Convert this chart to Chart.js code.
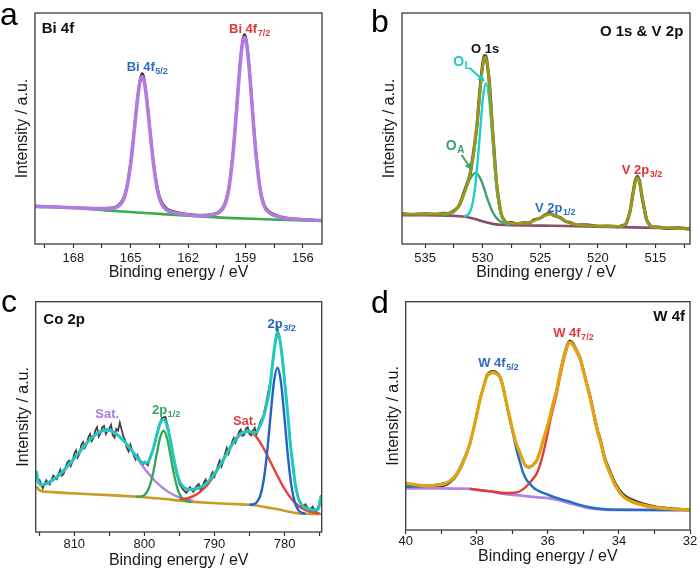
<!DOCTYPE html>
<html><head><meta charset="utf-8">
<script src="https://cdn.jsdelivr.net/npm/chart.js@4.4.1/dist/chart.umd.min.js"></script>
<style>
html,body{margin:0;padding:0;background:#fff;}
#wrap{position:relative;width:700px;height:571px;overflow:hidden;background:#fff;}
canvas{position:absolute;}
</style></head><body>
<div id="wrap">
<canvas id="ca" width="350" height="285" style="left:0;top:0"></canvas>
<canvas id="cb" width="350" height="285" style="left:350px;top:0"></canvas>
<canvas id="cc" width="350" height="286" style="left:0;top:285px"></canvas>
<canvas id="cd" width="350" height="286" style="left:350px;top:285px"></canvas>
</div>
<script>
// ---------------- Panel a : Bi 4f ----------------
const aX = [170,169,168,167.4,166.6,166.1,165.7,165.4,165.2,165.0,164.9,164.8,164.7,164.6,164.5,164.4,164.3,164.2,164.1,164.0,163.9,163.8,163.6,163.4,163.1,162.7,162.2,161.4,160.75,160.35,160.05,159.85,159.65,159.55,159.45,159.35,159.25,159.15,159.05,158.95,158.85,158.75,158.65,158.55,158.45,158.25,158.05,157.75,157.35,156.85,156.05,155];
const aEnvelope = [16.3,16.0,15.7,15.5,15.3,15.3,16.0,18.7,24.2,34.8,42.0,50.1,58.3,65.5,70.7,72.4,70.6,65.3,58.0,49.7,41.5,34.1,23.3,17.6,14.6,13.5,12.8,12.3,12.7,13.8,17.6,24.9,39.1,48.8,59.6,70.5,80.2,87.1,89.5,87.0,80.1,70.4,59.4,48.5,38.8,24.5,17.0,13.4,12.0,11.1,10.6,10.1];
const aRaw = [16.5,16.1,15.8,15.6,15.5,15.6,16.5,19.5,25.0,35.5,42.8,50.8,59.0,66.3,71.8,73.8,72.0,66.3,58.8,50.5,42.4,35.2,24.5,18.6,15.3,14.0,13.1,12.5,12.9,14.2,18.3,25.7,40.0,49.6,60.4,71.4,81.2,88.3,90.8,88.3,81.2,71.5,60.5,49.5,39.8,25.4,17.8,14.0,12.4,11.3,10.7,10.2];
const aBgX = [170,168,166,164,162,160,158,156,155];
const aBg = [16.2,15.6,14.4,13.3,12.2,11.3,10.7,10.2,10.1];
const aTicks = [169.5,168,166.5,165,163.5,162,160.5,159,157.5,156];
const aMajor = [168,165,162,159,156];

// ---------------- Panel b : O 1s & V 2p ----------------
const bX = [537,536,535,534,533.5,533,532.5,532,531.7,531.4,531.1,530.8,530.5,530.25,530.0,529.85,529.75,529.55,529.4,529.2,529.0,528.8,528.6,528.4,528.2,527.9,527.5,527,526.5,526,525.5,525,524.5,524.15,523.8,523.3,522.8,522.3,521.8,521,520,519,518.2,517.87,517.57,517.37,517.17,516.97,516.77,516.57,516.37,516.17,515.97,515.77,515.57,515.27,515,514,513,512];
const bEnvelope = [13.0,12.9,12.9,13.0,13.1,13.4,14.0,17.2,20.6,24.9,30.5,38.6,51.4,65.0,77.0,80.5,81.0,76.4,68.3,54.0,39.3,27.0,18.4,13.4,10.7,9.4,9.0,8.9,9.0,9.3,10.2,11.4,12.5,12.9,12.5,11.3,10.0,8.9,8.4,8.1,7.8,7.6,7.6,7.8,8.8,10.9,15.2,21.0,26.5,28.7,26.4,20.9,15.1,10.8,8.6,7.4,7.2,7.0,6.8,6.5];
const bRaw = [13.2,12.7,13.1,12.8,13.3,13.2,14.4,17.0,21.2,25.4,30.0,39.4,51.0,65.8,77.6,81.5,81.6,76.0,69.0,53.5,39.8,26.5,18.9,13.0,10.9,9.2,9.3,8.7,9.2,9.1,10.5,11.2,12.8,13.3,12.3,11.5,9.8,9.1,8.2,8.3,7.6,7.8,7.5,8.0,8.6,11.2,15.0,21.3,26.9,29.3,26.8,20.6,15.3,10.6,8.8,7.3,7.4,6.8,7.0,6.4];
const bBgX = [537,535,533,532,531.2,530.5,529.8,529,528,526,524,522,520,518,516,514,512];
const bBg = [12.5,12.5,12.3,12.0,11.5,10.6,9.5,8.6,8.2,8.0,7.9,7.7,7.5,7.3,7.1,6.9,6.7];
const bOLX = [531.6,531.45,531.2,530.95,530.7,530.45,530.2,529.95,529.7,529.45,529.2,528.95,528.7,528.45,528.2,527.95,527.7];
const bOL = [11.9,12.2,13.1,16.0,22.8,34.7,50.1,64.1,69.6,63.6,49.0,33.0,20.7,13.6,10.4,9.2,8.6];
const bOAX = [533.5,533.1,532.6,532.1,531.6,531.1,530.6,530.1,529.6,529.1,528.6,528.1,527.6];
const bOA = [12.4,12.7,13.5,16.3,21.8,28.1,30.8,27.3,19.8,13.5,10.2,8.9,8.3];
const bTicks = [535,532.5,530,527.5,525,522.5,520,517.5,515,512.5];
const bMajor = [535,530,525,520,515];

// ---------------- Panel c : Co 2p ----------------
const cX = [815.4,815.1,814.5,814.0,813,812,811,810,809,808,807,806,805.3,804,803,802,801,800.3,799.7,799.2,798.7,798.2,797.7,797.25,796.8,796.3,795.8,795.3,794.8,794.2,793.5,793,792,791,790,789,788,787,786,785,784.2,783.5,783.0,782.6,782.2,781.8,781.5,781.2,781.0,780.7,780.4,780.1,779.8,779.5,779.2,778.8,778.5,778.1,777.7,777.2,776.5,775.8,775.2,774.9,774.75];
const cEnvelope = [26.5,21.5,20.5,21.0,22.8,25.2,28.5,32.0,35.8,39.4,42.2,43.9,44.5,42.6,39.8,36.2,32.3,30.2,30.0,32.0,36.5,42.5,47.5,48.8,46.5,40.0,32.0,25.0,21.0,19.0,18.4,18.5,19.5,21.5,25.3,30.0,35.3,40.0,43.0,43.8,43.0,46.0,50.0,54.8,60.5,70.5,78.5,84.5,87.0,84.0,77.6,69.0,59.5,50.0,39.0,29.0,21.5,15.5,12.5,10.8,10.0,9.6,9.8,14.0,16.0];
const cRawX = [815,814.5,814,813.5,813,812.5,812,811.75,811.5,811.25,811,810.75,810.5,810.25,810,809.75,809.5,809.25,809,808.75,808.5,808.25,808,807.75,807.5,807.25,807,806.75,806.5,806.25,806,805.75,805.5,805.25,805,804.75,804.5,804.25,804,803.75,803.5,803.25,803,802.75,802.5,802.25,802,801.75,801.5,801.25,801,800.75,800.5,800.25,800,799.5,799,798.5,798,797.5,797,796.5,796,795.5,795,794.5,794,793.5,793,792.75,792.5,792.25,792,791.75,791.5,791.25,791,790.75,790.5,790.25,790,789.75,789.5,789.25,789,788.75,788.5,788.25,788,787.75,787.5,787.25,787,786.75,786.5,786.25,786,785.75,785.5,785.25,785,784.75,784.5,784.25,784,783.75,783.5,783.25,783,782.5,782,781.5,781,780.5,780,779.5,779,778.5,778,777.5,777,776.5,776,775.5,775];
const cRaw = [23.0,19.0,22.5,20.6,24.5,23.0,27.0,24.5,25.4,28.0,30.2,31.0,28.7,30.5,34.0,35.5,32.4,34.0,37.6,39.0,36.5,38.0,41.0,42.5,39.5,41.0,44.0,45.5,41.5,43.0,45.5,46.0,42.5,43.8,45.0,46.5,42.0,41.0,44.8,44.0,47.5,44.5,41.5,40.0,36.5,35.0,38.0,35.5,33.0,31.5,33.5,32.0,29.5,28.8,30.5,29.0,34.0,38.0,45.5,49.5,50.0,44.0,35.0,26.5,21.0,18.5,17.0,19.5,17.5,19.0,20.0,20.8,18.3,19.2,21.5,22.8,20.5,21.8,24.5,26.0,24.0,26.2,29.0,31.0,28.5,30.5,34.0,36.5,34.0,36.0,39.0,40.8,38.8,40.5,43.5,44.5,41.8,42.3,45.0,45.5,42.5,42.0,44.0,45.2,42.5,44.5,47.5,49.0,50.5,58.0,66.0,79.0,88.0,81.0,65.5,49.5,33.0,20.5,14.0,11.0,12.0,9.0,11.0,8.5,12.5];
const cBgX = [815.4,815.0,814.5,813,811,809,807,805,803,801,799,797,795,793,791,789,787,785,784,783,782,781,780,779,778,777,776,774.75];
const cBg = [19.8,18.2,17.6,17.3,16.9,16.6,16.3,16.0,15.7,15.3,14.8,14.3,13.6,13.1,12.7,12.4,12.1,11.8,11.5,11.0,10.4,9.9,9.2,8.6,8.1,7.9,7.8,7.8];
const cSatHighX = [815,814,813,812,811,810,809,808,807,806,805,804,803,802,801,800,799,798,797,796,795,794,793];
const cSatHigh = [20.2,20.8,22.5,24.9,28.1,31.8,35.6,39.3,42.1,43.8,43.9,42.6,39.8,36.1,31.9,27.7,23.9,20.8,18.3,16.4,15.0,14.1,13.5];
const cP12X = [801.25,800.25,799.75,799.25,798.75,798.25,797.75,797.25,796.75,796.25,795.75,795.25,794.75,794.25,793.25];
const cP12 = [15.35,15.6,16.8,19.9,25.65,33.6,40.95,43.95,40.6,32.95,24.7,18.65,15.25,13.8,13.1];
const cSatLowX = [795,794,793,792,791,790,789,788,787,786,785,784,783,782,781,780,779,778,777,776,775];
const cSatLow = [14.15,14.55,15.6,17.5,20.5,24.85,30.1,35.55,40.3,43.25,43.7,41.2,36.4,30.4,24.3,18.7,14.3,11.3,9.5,8.6,8.1];
const cP32X = [785,784.5,784,783.5,783,782.5,782,781.5,781,780.5,780,779.5,779,778.5,778,777.5,777];
const cP32 = [11.85,11.95,12.8,15.45,22.0,34.1,50.4,65.35,71.3,64.75,49.2,32.3,19.6,12.55,9.4,8.3,7.9];
const cTicks = [815,810,805,800,795,790,785,780,775];
const cMajor = [810,800,790,780];

// ---------------- Panel d : W 4f ----------------
const dX = [40.0,39.7,39.4,39.1,38.9,38.75,38.6,38.45,38.3,38.19,38.05,37.91,37.8,37.72,37.62,37.55,37.45,37.35,37.25,37.16,37.06,36.97,36.87,36.78,36.7,36.64,36.57,36.5,36.42,36.31,36.22,36.13,36.03,35.94,35.85,35.75,35.66,35.57,35.48,35.39,35.28,35.18,35.09,34.99,34.9,34.81,34.7,34.6,34.53,34.4,34.25,34.1,33.87,33.6,33.31,33.0,32.6,32.0];
const dEnvelope = [20.4,19.8,19.4,19.7,20.3,21.6,23.8,27.5,33.0,38.0,47.0,56.9,63.0,67.1,68.6,68.9,68.5,67.1,62.0,55.5,48.5,42.4,37.0,33.6,30.5,28.5,27.8,27.7,28.5,30.7,34.5,39.4,44.5,49.6,55.5,61.3,68.5,74.5,79.5,82.2,81.0,78.0,75.0,69.0,63.5,58.0,50.0,43.0,39.4,31.0,24.8,19.5,14.6,12.3,10.9,9.9,9.3,8.8];
const dRaw = [20.0,19.2,18.6,18.9,19.5,20.9,23.2,27.0,32.6,37.8,47.2,57.3,63.6,67.8,69.3,69.6,69.1,67.5,62.4,55.2,48.0,42.0,36.6,33.2,30.3,28.3,27.5,27.4,28.3,30.4,34.3,39.2,44.4,49.8,55.8,61.8,69.0,75.1,80.2,83.0,81.7,78.6,75.6,69.7,64.3,58.9,51.0,44.0,40.5,32.2,26.0,20.6,15.6,13.2,11.6,10.4,9.6,9.0];
const dBgX = [40,39,38.5,38.19,37.8,37.5,37.3,36.8,36.35,35.85,35.38,34.9,34.6,34.25,33,32];
const dBg = [18.2,18.2,18.1,18.0,17.2,16.6,15.9,15.2,14.4,13.6,11.7,9.8,9.1,8.8,8.75,8.7];
const dF52X = [40.0,39.5,39.0,38.75,38.55,38.35,38.19,38.05,37.91,37.8,37.72,37.62,37.55,37.45,37.35,37.25,37.16,37.06,36.97,36.88,36.78,36.69,36.6,36.52,36.42,36.31,36.1,35.85,35.6,35.38,35.1,34.9,34.6,34.3,34.0,33.5,32.0];
const dF52 = [18.9,19.3,20.2,21.5,25.0,31.5,38.0,47.0,56.9,63.0,67.0,68.5,68.9,68.3,66.8,61.5,54.8,47.5,41.5,35.0,29.5,24.8,22.0,20.5,18.8,17.5,16.0,14.6,13.3,12.4,11.0,10.2,9.4,9.0,8.9,8.8,8.7];
const dF72X = [38.2,37.6,37.2,36.9,36.7,36.52,36.4,36.31,36.22,36.13,36.03,35.94,35.85,35.75,35.66,35.57,35.48,35.39,35.28,35.18,35.09,34.99,34.9,34.81,34.7,34.6,34.53,34.4,34.25,34.1,33.87,33.6,33.31,33.0,32.6,32.0];
const dF72 = [18.0,16.9,16.2,16.4,17.8,20.5,22.8,24.8,28.5,33.6,40.5,47.4,53.5,59.8,67.0,73.3,78.8,82.2,80.6,77.6,74.7,68.8,63.3,57.8,49.8,42.8,39.2,30.8,24.6,19.3,14.4,12.1,10.7,9.7,9.1,8.7];
const dTicks = [40,39,38,37,36,35,34,33,32];
const dMajor = [40,38,36,34,32];

// ---------------- drawing ----------------
const FONT = 'Arial, "Liberation Sans", Helvetica, sans-serif';
Chart.defaults.font.family = FONT;

function zip(xs, ys) { return xs.map((x, i) => ({x: x, y: ys[i]})); }

function line(xs, ys, color, width, opts) {
  return Object.assign({
    data: zip(xs, ys), borderColor: color, backgroundColor: color,
    borderWidth: width, pointRadius: 0, fill: false,
    cubicInterpolationMode: 'monotone'
  }, opts || {});
}

function drawLabel(ctx, px, py, l) {
  ctx.fillStyle = l.color;
  ctx.textAlign = 'left';
  ctx.textBaseline = 'alphabetic';
  ctx.font = 'bold ' + (l.size || 13) + 'px ' + FONT;
  ctx.fillText(l.main, px, py);
  if (l.sub) {
    const w = ctx.measureText(l.main).width;
    ctx.font = 'bold ' + (l.subSize || 9) + 'px ' + FONT;
    ctx.fillText(l.sub, px + w + 0.5, py + 3);
  }
}

function drawArrow(ctx, x0, y0, x1, y1, color) {
  ctx.strokeStyle = color; ctx.fillStyle = color; ctx.lineWidth = 2;
  const ang = Math.atan2(y1 - y0, x1 - x0);
  const hl = 7;
  const bx = x1 - hl * Math.cos(ang), by = y1 - hl * Math.sin(ang);
  ctx.beginPath(); ctx.moveTo(x0, y0); ctx.lineTo(bx, by); ctx.stroke();
  ctx.beginPath();
  ctx.moveTo(x1, y1);
  ctx.lineTo(bx + 3.5 * Math.sin(ang), by - 3.5 * Math.cos(ang));
  ctx.lineTo(bx - 3.5 * Math.sin(ang), by + 3.5 * Math.cos(ang));
  ctx.closePath(); ctx.fill();
}

const deco = {
  id: 'deco',
  afterDatasetsDraw(chart, args, o) {
    const ctx = chart.ctx, ca = chart.chartArea, sx = chart.scales.x, sy = chart.scales.y;
    ctx.save();
    ctx.strokeStyle = '#3a3a3a'; ctx.lineWidth = 1.3;
    ctx.strokeRect(ca.left, ca.top, ca.right - ca.left, ca.bottom - ca.top);
    (o.arrows || []).forEach(a => drawArrow(ctx, sx.getPixelForValue(a.x0), sy.getPixelForValue(a.y0),
      sx.getPixelForValue(a.x1), sy.getPixelForValue(a.y1), a.color));
    (o.labels || []).forEach(l => drawLabel(ctx, sx.getPixelForValue(l.x), sy.getPixelForValue(l.y), l));
    ctx.fillStyle = '#111'; ctx.textBaseline = 'alphabetic';
    ctx.font = 'bold 15px ' + FONT;
    if (o.title.align === 'left') { ctx.textAlign = 'left'; ctx.fillText(o.title.text, ca.left + o.title.dx, ca.top + o.title.dy); }
    else { ctx.textAlign = 'right'; ctx.fillText(o.title.text, ca.right - o.title.dx, ca.top + o.title.dy); }
    ctx.font = '32px ' + FONT; ctx.textAlign = 'left'; ctx.fillStyle = '#000';
    ctx.fillText(o.letter.text, o.letter.x, o.letter.y);
    ctx.restore();
  }
};

function makeChart(id, c) {
  const n = c.datasets.length;
  c.datasets.forEach((d, i) => { d.order = n - i; });
  return new Chart(document.getElementById(id), {
    type: 'line',
    data: { datasets: c.datasets },
    plugins: [deco],
    options: {
      responsive: false, animation: false, devicePixelRatio: 1,
      layout: { padding: { left: 0, top: c.top, right: c.right, bottom: 0 } },
      plugins: { legend: { display: false }, tooltip: { enabled: false }, deco: c.deco },
      scales: {
        x: {
          type: 'linear', reverse: true, min: c.min, max: c.max,
          afterBuildTicks: s => { s.ticks = c.ticks.map(v => ({ value: v })); },
          afterFit: s => { s.height = c.xH; },
          grid: { display: true, drawOnChartArea: false, drawTicks: true, tickLength: 4, tickColor: '#333', tickWidth: 1.2 },
          border: { display: false },
          ticks: { callback: v => (c.major.indexOf(v) >= 0 ? String(v) : ''), font: { size: 13 }, color: '#1a1a1a', padding: c.tickPad, maxRotation: 0, autoSkip: false },
          title: { display: true, text: 'Binding energy / eV', font: { size: 16 }, color: '#1a1a1a', padding: { top: 0, bottom: c.xTitlePad } }
        },
        y: {
          type: 'linear', min: 0, max: 100,
          afterFit: s => { s.width = c.yW; },
          grid: { display: false }, border: { display: false },
          ticks: { display: false },
          title: { display: true, text: 'Intensity / a.u.', font: { size: 16 }, color: '#1a1a1a', padding: { top: c.yTitlePad, bottom: 0 } }
        }
      }
    }
  });
}

// Panel a
makeChart('ca', {
  min: 155, max: 170, ticks: aTicks, major: aMajor,
  top: 13, right: 28, xH: 41, yW: 35, tickPad: 3, xTitlePad: 2.5, yTitlePad: 12.9,
  datasets: [
    line(aX, aRaw, '#3c3c3c', 2.4),
    line(aBgX, aBg, '#3cab4f', 2.6),
    line(aX, aEnvelope, '#b27be0', 3.6)
  ],
  deco: {
    title: { text: 'Bi 4f', align: 'left', dx: 6.7, dy: 20.3 },
    letter: { text: 'a', x: 0, y: 25 },
    labels: [
      { x: 165.21, y: 75.0, main: 'Bi 4f', sub: '5/2', color: '#2f6fc0' },
      { x: 159.86, y: 91.2, main: 'Bi 4f', sub: '7/2', color: '#e03a3a' }
    ]
  }
});

// Panel b
makeChart('cb', {
  min: 512, max: 537, ticks: bTicks, major: bMajor,
  top: 13, right: 10, xH: 41, yW: 52, tickPad: 3, xTitlePad: 2.5, yTitlePad: 29.7,
  datasets: [
    line(bX, bRaw, '#4f4653', 3.2),
    line(bBgX, bBg, '#8b4f6e', 2.6),
    line(bOAX, bOA, '#3ba46e', 2.4),
    line(bOLX, bOL, '#1fd0c8', 2.4),
    line(bX, bEnvelope, '#9a9a14', 2.8)
  ],
  deco: {
    title: { text: 'O 1s & V 2p', align: 'right', dx: 6.7, dy: 23 },
    letter: { text: 'b', x: 21, y: 31.7 },
    labels: [
      { x: 531.0, y: 82.6, main: 'O 1s', color: '#111' },
      { x: 532.55, y: 77.1, main: 'O', sub: 'L', color: '#1fc9c1', size: 14, subSize: 10 },
      { x: 533.2, y: 40.7, main: 'O', sub: 'A', color: '#3a9f6a', size: 14, subSize: 10 },
      { x: 525.45, y: 13.7, main: 'V 2p', sub: '1/2', color: '#2f6fc0' },
      { x: 517.93, y: 30.5, main: 'V 2p', sub: '3/2', color: '#e23333' }
    ],
    arrows: [
      { x0: 531.1, y0: 76.1, x1: 529.8, y1: 70.3, color: '#1fc9c1' },
      { x0: 531.82, y0: 38.5, x1: 530.95, y1: 32.0, color: '#3a9f6a' }
    ]
  }
});

// Panel c
makeChart('cc', {
  min: 774.7, max: 815.5, ticks: cTicks, major: cMajor,
  top: 16.7, right: 28.3, xH: 39, yW: 35.7, tickPad: 1, xTitlePad: 1.2, yTitlePad: 13.7,
  datasets: [
    line(cRawX, cRaw, '#444444', 1.8, { cubicInterpolationMode: 'default', tension: 0 }),
    line(cBgX, cBg, '#c99d22', 2.6),
    line(cSatHighX, cSatHigh, '#b383e0', 2.4),
    line(cP12X, cP12, '#35a855', 2.4),
    line(cSatLowX, cSatLow, '#e2453c', 2.4),
    line(cP32X, cP32, '#2262c9', 2.4),
    line(cX, cEnvelope, '#21c8bd', 3.0)
  ],
  deco: {
    title: { text: 'Co 2p', align: 'left', dx: 7.6, dy: 22.6 },
    letter: { text: 'c', x: 1, y: 26.7 },
    labels: [
      { x: 807.0, y: 49.4, main: 'Sat.', color: '#a97bd9' },
      { x: 798.9, y: 51.4, main: '2p', sub: '1/2', color: '#36a65a' },
      { x: 787.37, y: 46.5, main: 'Sat.', color: '#e24040' },
      { x: 782.43, y: 88.4, main: '2p', sub: '3/2', color: '#2163c4' }
    ]
  }
});

// Panel d
makeChart('cd', {
  min: 32, max: 40, ticks: dTicks, major: dMajor,
  top: 16.7, right: 10, xH: 41, yW: 55.7, tickPad: 0, xTitlePad: 5.2, yTitlePad: 33.9,
  datasets: [
    line(dX, dRaw, '#404040', 2.2),
    line(dBgX, dBg, '#b683e3', 2.8),
    line(dF72X, dF72, '#e33b36', 2.4),
    line(dF52X, dF52, '#1f6fc6', 2.4),
    line(dX, dEnvelope, '#e2a50e', 3.2)
  ],
  deco: {
    title: { text: 'W 4f', align: 'right', dx: 5, dy: 19 },
    letter: { text: 'd', x: 21, y: 28.3 },
    labels: [
      { x: 37.96, y: 71.5, main: 'W 4f', sub: '5/2', color: '#2d6ec0' },
      { x: 35.85, y: 84.4, main: 'W 4f', sub: '7/2', color: '#e03c3c' }
    ]
  }
});
</script>
</body></html>
